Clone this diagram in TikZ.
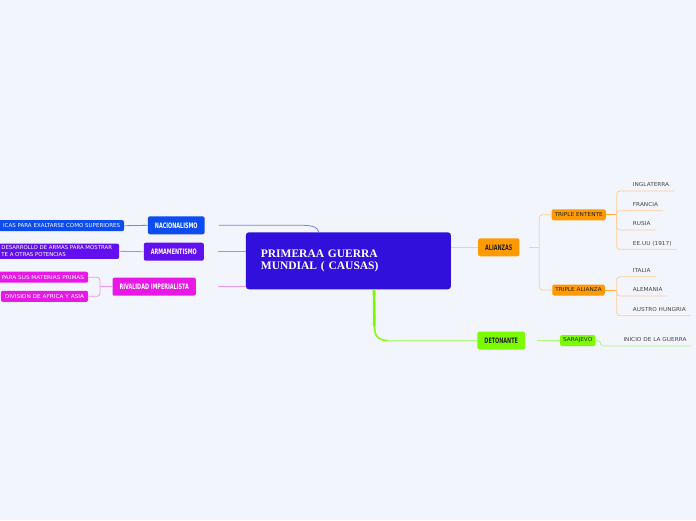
\documentclass[tikz,border=0pt]{standalone}
\usepackage{fontspec}
\setmainfont{Liberation Serif}
\newfontfamily\leaffont[FakeStretch=1.07]{DejaVu Sans}
\newfontfamily\cutfont{DejaVu Sans}
\newfontfamily\topicfont[FakeStretch=0.65]{DejaVu Sans}
\usetikzlibrary{positioning}

\definecolor{paper}{RGB}{243,245,253}
\definecolor{rootcol}{RGB}{50,16,220}
\definecolor{naccol}{RGB}{12,76,240}
\definecolor{armcol}{RGB}{98,16,238}
\definecolor{rivcol}{RGB}{232,24,230}
\definecolor{alicol}{RGB}{255,154,0}
\definecolor{detcol}{RGB}{124,250,0}
\definecolor{inkcol}{RGB}{35,35,35}
\definecolor{leafink}{RGB}{70,70,70}
\definecolor{naclink}{RGB}{100,140,245}
\definecolor{armlink}{RGB}{170,140,245}
\definecolor{rivlink}{RGB}{240,150,238}
\definecolor{alilink}{RGB}{255,205,150}
\definecolor{detlink}{RGB}{175,250,120}

\tikzset{
  topic/.style={rounded corners=2pt, inner xsep=7pt, minimum height=18pt,
    font=\topicfont\bfseries\fontsize{7.5}{9}\selectfont},
  sub/.style={rounded corners=2pt, inner xsep=4pt, inner ysep=2pt, minimum height=11pt,
    font=\leaffont\fontsize{5.4}{7.3}\selectfont},
  leaf/.style={anchor=south west, inner xsep=5pt, inner ysep=4pt, text depth=0pt,
    text=leafink, font=\leaffont\fontsize{5.4}{7}\selectfont},
  link/.style={line width=0.8pt},
  twig/.style={line width=0.8pt, rounded corners=3pt}
}

\begin{document}
\begin{tikzpicture}[x=1pt, y=-1pt]
  \useasboundingbox[fill=paper] (0,0) rectangle (696,520);

  % Central topic
  \node[fill=rootcol, text=white, rounded corners=3pt, minimum width=205pt,
    minimum height=57pt, text width=175pt, inner xsep=15pt, align=left,
    font=\bfseries\fontsize{11.5}{12.5}\selectfont] (root) at (348.4,260.8)
    {PRIMERAA GUERRA\\MUNDIAL ( CAUSAS)};

  % Left branches
  \node[topic, fill=naccol, text=white] (nac) at (176.3,225.3) {NACIONALISMO};
  \node[topic, fill=armcol, text=white] (arm) at (173.8,251.7) {ARMAMENTISMO};
  \node[topic, fill=rivcol, text=white] (riv) at (154.2,286.7) {RIVALIDAD IMPERIALISTA};

  \draw[link, naclink] ([xshift=14pt]nac.east) -- (303,225.3)
    .. controls (314,225.3) and (318,228) .. ([xshift=73pt]root.north west);
  \draw[link, armlink] ([xshift=14pt]arm.east) -- (root.west |- arm.east);
  \draw[link, rivlink] ([xshift=22pt]riv.east) -- (root.west |- riv.east);

  % Left sub topics (cut by the page edge)
  \node[sub, fill=naccol, text=white, anchor=east, text width=135pt, align=right,
    font=\cutfont\fontsize{5.5}{7.3}\selectfont]
    (nacA) at (124.3,225.7) {ICAS PARA EXALTARSE COMO SUPERIORES};
  \node[sub, fill=armcol, text=white, anchor=east, align=left, inner xsep=7pt,
    font=\cutfont\fontsize{5.4}{7.3}\selectfont] (armA)
    at (119.3,251.3) {DESARROLLO DE ARMAS PARA MOSTRAR\\TE A OTRAS POTENCIAS};
  \node[sub, fill=rivcol, text=white, anchor=east, text width=95pt, align=right] (rivA)
    at (88.3,277.2) {PARA SUS MATERIAS PRIMAS};
  \node[sub, fill=rivcol, text=white, anchor=east] (rivB) at (88.3,296.3)
    {DIVISION DE AFRICA Y ASIA};

  \draw[link, naclink] (nacA.east) -- (nac.west);
  \draw[link, armlink] (armA.east) -- (arm.west);
  \coordinate (rivj) at (100,286.7);
  \draw[link, rivlink] (riv.west) -- (rivj);
  \foreach \c in {rivA, rivB}{
    \draw[twig, rivlink] (rivj) |- (\c.east);
  }

  % Alianzas
  \node[topic, fill=alicol, text=inkcol] (ali) at (498.8,247.3) {ALIANZAS};
  \draw[link, alilink] (root.east |- ali.west) -- (ali.west);
  \node[sub, fill=alicol, text=inkcol, inner xsep=3pt] (tent) at (578.7,214.8) {TRIPLE ENTENTE};
  \node[sub, fill=alicol, text=inkcol, inner xsep=3pt] (tali) at (578.5,290) {TRIPLE ALIANZA};
  \coordinate (alij) at (539.3,247.3);
  \draw[link, alilink] ([xshift=9pt]ali.east) -- (alij);
  \foreach \c in {tent, tali}{
    \draw[twig, alilink] (alij) |- (\c.west);
  }

  % Triple Entente: 4 members
  \coordinate (tentj) at (616.7,214.8);
  \draw[link, alicol!80] (tent.east) -- (tentj);
  \foreach \name/\yy/\txt in {ingl/191/INGLATERRA, fran/210.7/FRANCIA,
      rus/230/RUSIA, eeuu/249.3/{EE.UU (1917)}}{
    \node[leaf] (\name) at (627.7,\yy) {\txt};
    \draw[twig, alilink] (tentj) |- (\name.south west) -- (\name.south east);
  }
  % Triple Alianza: 3 members
  \coordinate (talij) at (616.7,290);
  \draw[link, alicol!80] (tali.east) -- (talij);
  \foreach \name/\yy/\txt in {ita/276.7/ITALIA, alem/296/ALEMANIA,
      aus/315.7/AUSTRO HUNGRIA}{
    \node[leaf] (\name) at (627.7,\yy) {\txt};
    \draw[twig, alilink] (talij) |- (\name.south west) -- (\name.south east);
  }

  % Detonante
  \node[topic, fill=detcol, text=inkcol] (det) at (501.2,340.5) {DETONANTE};
  \coordinate (rootd) at ([xshift=128.3pt]root.south west);
  \draw[line width=2.6pt, detcol] (rootd) -- (374.3,326);
  \draw[line width=1.6pt, detcol!85!detlink] (374.3,325)
    .. controls (374.3,336) and (378,340.5) .. (388,340.5);
  \draw[link, detlink] (387,340.5) -- (det.west);

  \node[sub, fill=detcol, text=inkcol, inner xsep=3pt] (sar) at (577.7,340.5) {SARAJEVO};
  \draw[link, detlink] ([xshift=11.7pt]det.east) -- (sar.west);
  \node[leaf] (ini) at (618.3,346) {INICIO DE LA GUERRA};
  \draw[twig, detlink] (sar.east) -- ++(5,0) |- (ini.south west) -- (ini.south east);
\end{tikzpicture}
\end{document}
